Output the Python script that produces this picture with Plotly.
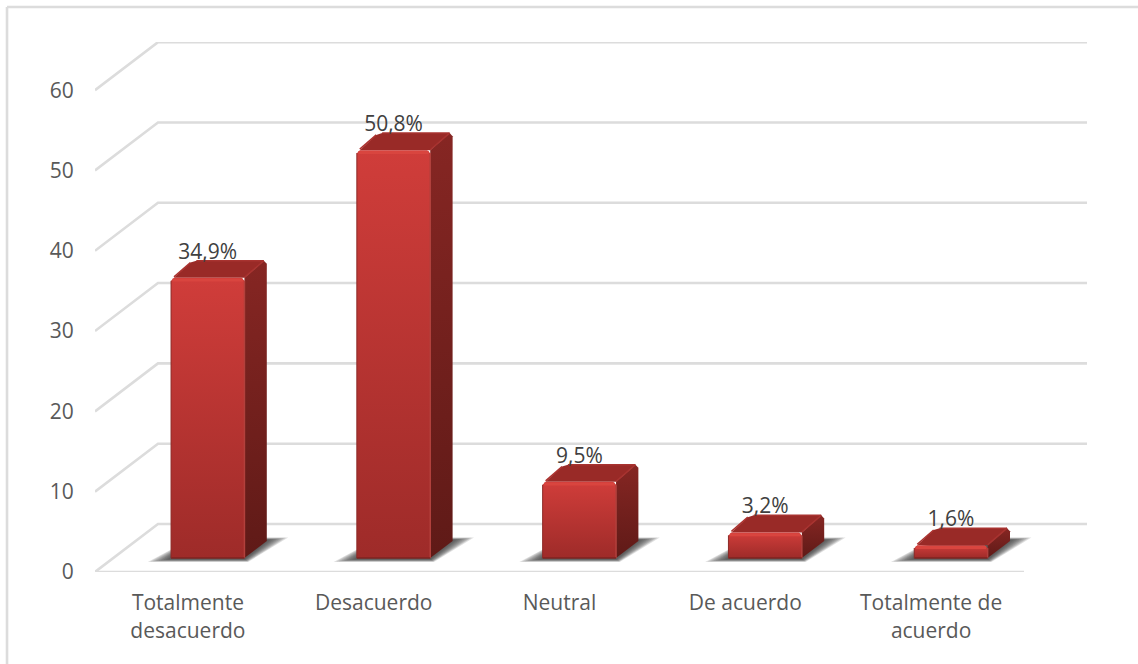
import plotly.graph_objects as go

categories = ["Totalmente<br>desacuerdo", "Desacuerdo", "Neutral", "De acuerdo", "Totalmente de<br>acuerdo"]
values = [34.9, 50.8, 9.5, 3.2, 1.6]
value_labels = ["34,9%", "50,8%", "9,5%", "3,2%", "1,6%"]
y_ticks = [0, 10, 20, 30, 40, 50, 60]

# chart box depth expressed in axis units
DX, DY = 0.339, 5.98
X0, X1 = -0.5, 4.839
Y1 = 66
BAR_W = 0.395
NEAR, FAR = 0.315, 0.67   # bar's front/back as fractions of the depth
CX, CY = 0.016, 0.38      # small corner rounding of the bar

FONT = "Open Sans"
GRID = "#dcdcdc"
fig = go.Figure()


def poly(xs, ys, color=None, grad=None):
    kw = dict(x=list(xs) + [xs[0]], y=list(ys) + [ys[0]], mode="lines", fill="toself",
              line=dict(width=0), hoverinfo="skip", showlegend=False)
    if grad:
        kw["fillgradient"] = dict(type="vertical", start=grad[0], stop=grad[1],
                                  colorscale=[[0, grad[2]], [1, grad[3]]])
    else:
        kw["fillcolor"] = color
    fig.add_trace(go.Scatter(**kw))


def seg(xs, ys, color, width):
    fig.add_trace(go.Scatter(x=xs, y=ys, mode="lines", line=dict(color=color, width=width),
                             hoverinfo="skip", showlegend=False))


# walls and floor
for v in y_ticks:
    seg([X0, X0 + DX, X1], [v, v + DY, v + DY], GRID, 2.6)
seg([X0, len(categories) - 0.5], [0, 0], GRID, 2.6)

# bars
for i, v in enumerate(values):
    l = i + NEAR * DX - BAR_W / 2
    r = l + BAR_W
    b = 0.29 * DY
    t = b + v
    ox = (FAR - NEAR) * DX
    oy = (FAR - NEAR) * DY

    # soft shadow on the floor
    for k in range(9):
        e = 1 - k / 9
        ex, ey = 0.125 * e, 0.12 + 0.36 * e
        poly([l - ex, r + 0.02 * e, r + ox + 0.115 * e, l + ox],
             [b - ey, b - ey, b + oy + ey * 0.9, b + oy + ey * 0.9],
             "rgba(50,50,50,0.15)")

    poly([r, r + ox, r + ox, r + ox - CX, r], [b, b + oy, t + oy - CY, t + oy, t],
         grad=(t + oy, b, "#862623", "#5f1a17"))
    poly([l + CX, r, r + ox - CX, l + ox + CX, l + ox - CX],
         [t, t, t + oy, t + oy, t + oy - CY * 0.6], color="#992a27")
    poly([l, l, l + CX, r - CX, r, r], [b, t - CY, t, t, t - CY, b],
         grad=(t, b, "#d03d3a", "#9e2b29"))

    # bevelled edges
    seg([l + 0.008, r - 0.008], [t - 0.28, t - 0.28], "#d9453f", 3)
    seg([l + CX, l + ox - CX], [t + 0.12, t + oy - CY * 0.6], "#ab322f", 1.5)
    seg([l + ox + CX, r + ox - CX], [t + oy, t + oy], "#a83330", 1.5)
    seg([r, r + ox - CX], [t + 0.05, t + oy], "#a83330", 1.5)
    seg([r, r], [b, t - CY], "#b2403c", 1.5)
    seg([l, r], [b, b], "#7e2321", 1.5)
    seg([l, l], [b, t - CY], "#8c2926", 1)

fig.add_trace(go.Scatter(
    x=[i + NEAR * DX for i in range(len(values))],
    y=[v + 0.29 * DY + 3.05 for v in values],
    text=value_labels, mode="text", textposition="middle center",
    textfont=dict(family=FONT, size=21, color="#404040"),
    hoverinfo="skip", showlegend=False))

frame = dict(type="line", xref="paper", yref="paper", line=dict(color=GRID, width=2.6), layer="below")

fig.update_layout(
    width=1138, height=664, autosize=False,
    margin=dict(l=95, r=51, t=42, b=92, autoexpand=False),
    paper_bgcolor="white", plot_bgcolor="white", showlegend=False,
    xaxis=dict(range=[X0, X1], tickvals=list(range(len(categories))), ticktext=categories,
               showgrid=False, zeroline=False, showline=False, ticks="outside", ticklen=12,
               tickcolor="rgba(0,0,0,0)", tickfont=dict(family=FONT, size=21, color="#595959")),
    yaxis=dict(range=[0, Y1], tickvals=y_ticks, showgrid=False, zeroline=False, showline=False,
               ticks="outside", ticklen=16, tickcolor="rgba(0,0,0,0)",
               tickfont=dict(family=FONT, size=21, color="#595959")),
    shapes=[dict(frame, x0=-0.0887, x1=-0.0887, y0=-0.2, y1=1.066),
            dict(frame, x0=-0.0887, x1=1.06, y0=1.066, y1=1.066)],
)

fig.write_html("out.html", config={"displayModeBar": False},
               post_script="document.body.style.margin='0';document.documentElement.style.overflow='hidden';")
